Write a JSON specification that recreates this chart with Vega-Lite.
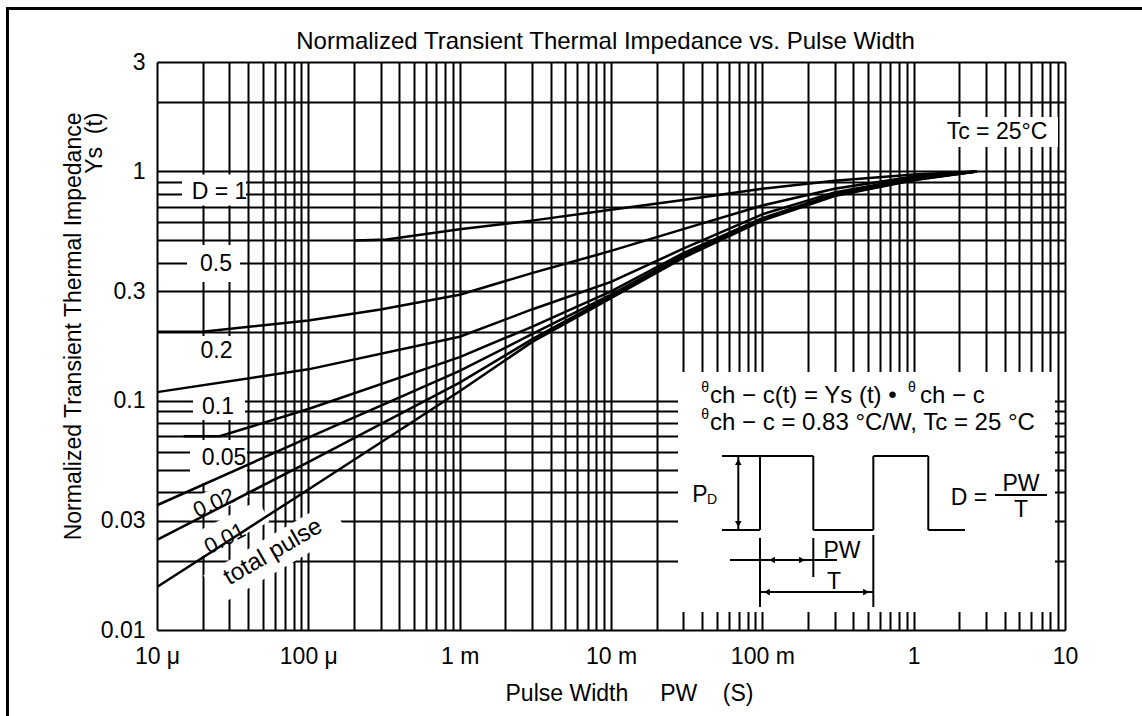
{
  "$schema": "https://vega.github.io/schema/vega-lite/v6.json",
  "width": 908,
  "height": 568,
  "autosize": {"type": "none"},
  "padding": {"left": 157, "top": 62, "right": 77, "bottom": 86},
  "background": "white",
  "config": {"view": {"stroke": null}, "font": "Liberation Sans"},
  "datasets": {
    "curves": [
      {"c": "A", "x": 0.000204, "y": 0.5}, {"c": "A", "x": 0.00033, "y": 0.505}, {"c": "A", "x": 0.001, "y": 0.56}, {"c": "A", "x": 0.003, "y": 0.61}, {"c": "A", "x": 0.01, "y": 0.68}, {"c": "A", "x": 0.03, "y": 0.75}, {"c": "A", "x": 0.1, "y": 0.84}, {"c": "A", "x": 0.3, "y": 0.91}, {"c": "A", "x": 1, "y": 0.97}, {"c": "A", "x": 2.6, "y": 1.0},
      {"c": "B", "x": 0.00001, "y": 0.2}, {"c": "B", "x": 0.00002, "y": 0.2}, {"c": "B", "x": 0.0001, "y": 0.224}, {"c": "B", "x": 0.0003, "y": 0.25}, {"c": "B", "x": 0.001, "y": 0.29}, {"c": "B", "x": 0.003, "y": 0.36}, {"c": "B", "x": 0.01, "y": 0.45}, {"c": "B", "x": 0.03, "y": 0.56}, {"c": "B", "x": 0.1, "y": 0.71}, {"c": "B", "x": 0.3, "y": 0.84}, {"c": "B", "x": 1, "y": 0.95}, {"c": "B", "x": 2.6, "y": 1.0},
      {"c": "C", "x": 0.00001, "y": 0.109}, {"c": "C", "x": 0.0001, "y": 0.137}, {"c": "C", "x": 0.001, "y": 0.19}, {"c": "C", "x": 0.003, "y": 0.25}, {"c": "C", "x": 0.01, "y": 0.33}, {"c": "C", "x": 0.03, "y": 0.46}, {"c": "C", "x": 0.1, "y": 0.65}, {"c": "C", "x": 0.3, "y": 0.81}, {"c": "C", "x": 1, "y": 0.935}, {"c": "C", "x": 2.6, "y": 1.0},
      {"c": "D", "x": 0.000015, "y": 0.07}, {"c": "D", "x": 0.000026, "y": 0.07}, {"c": "D", "x": 0.0001, "y": 0.092}, {"c": "D", "x": 0.001, "y": 0.155}, {"c": "D", "x": 0.003, "y": 0.21}, {"c": "D", "x": 0.01, "y": 0.3}, {"c": "D", "x": 0.03, "y": 0.44}, {"c": "D", "x": 0.1, "y": 0.625}, {"c": "D", "x": 0.3, "y": 0.795}, {"c": "D", "x": 1, "y": 0.93}, {"c": "D", "x": 2.6, "y": 1.0},
      {"c": "E", "x": 0.00001, "y": 0.035}, {"c": "E", "x": 0.0001, "y": 0.069}, {"c": "E", "x": 0.001, "y": 0.135}, {"c": "E", "x": 0.003, "y": 0.195}, {"c": "E", "x": 0.01, "y": 0.29}, {"c": "E", "x": 0.03, "y": 0.43}, {"c": "E", "x": 0.1, "y": 0.62}, {"c": "E", "x": 0.3, "y": 0.79}, {"c": "E", "x": 1, "y": 0.925}, {"c": "E", "x": 2.6, "y": 1.0},
      {"c": "F", "x": 0.00001, "y": 0.0247}, {"c": "F", "x": 0.0001, "y": 0.054}, {"c": "F", "x": 0.001, "y": 0.12}, {"c": "F", "x": 0.003, "y": 0.185}, {"c": "F", "x": 0.01, "y": 0.285}, {"c": "F", "x": 0.03, "y": 0.425}, {"c": "F", "x": 0.1, "y": 0.615}, {"c": "F", "x": 0.3, "y": 0.785}, {"c": "F", "x": 1, "y": 0.92}, {"c": "F", "x": 2.6, "y": 1.0},
      {"c": "G", "x": 0.00001, "y": 0.0154}, {"c": "G", "x": 0.0001, "y": 0.041}, {"c": "G", "x": 0.001, "y": 0.11}, {"c": "G", "x": 0.003, "y": 0.18}, {"c": "G", "x": 0.01, "y": 0.28}, {"c": "G", "x": 0.03, "y": 0.42}, {"c": "G", "x": 0.1, "y": 0.61}, {"c": "G", "x": 0.3, "y": 0.78}, {"c": "G", "x": 1, "y": 0.915}, {"c": "G", "x": 2.6, "y": 1.0}
    ],
    "boxes": [
      {"x": 0.00001463, "x2": 0.00003873, "y": 0.71, "y2": 0.97},
      {"x": 0.00001579, "x2": 0.00003536, "y": 0.3294, "y2": 0.4775},
      {"x": 0.00001652, "x2": 0.00003536, "y": 0.1114, "y2": 0.1915},
      {"x": 0.00001729, "x2": 0.00003814, "y": 0.0824, "y2": 0.1125},
      {"x": 0.00001652, "x2": 0.00003933, "y": 0.04377, "y2": 0.0674},
      {"x": 1.493, "x2": 8.989, "y": 1.278, "y2": 1.727},
      {"x": 0.02772, "x2": 8.59, "y": 0.01198, "y2": 0.1334}
    ],
    "bands": [
      {"b": "d02", "x": 0.00001603, "y": 0.0327}, {"b": "d02", "x": 0.00003757, "y": 0.04203},
      {"b": "d01", "x": 0.00001703, "y": 0.02279}, {"b": "d01", "x": 0.00005095, "y": 0.03304},
      {"b": "tp", "x": 0.00002309, "y": 0.01494}, {"b": "tp", "x": 0.000157, "y": 0.03142}
    ],
    "segs": [
      {"x": 0.05414, "x2": 0.09652, "y": 0.0273, "y2": 0.0273},
      {"x": 0.09652, "x2": 0.09652, "y": 0.0273, "y2": 0.05739},
      {"x": 0.05414, "x2": 0.2172, "y": 0.05739, "y2": 0.05739},
      {"x": 0.2172, "x2": 0.2172, "y": 0.05739, "y2": 0.0273},
      {"x": 0.2172, "x2": 0.5413, "y": 0.0273, "y2": 0.0273},
      {"x": 0.5413, "x2": 0.5413, "y": 0.0273, "y2": 0.05739},
      {"x": 0.5413, "x2": 1.249, "y": 0.05739, "y2": 0.05739},
      {"x": 1.249, "x2": 1.249, "y": 0.05739, "y2": 0.0273},
      {"x": 1.249, "x2": 2.184, "y": 0.0273, "y2": 0.0273},
      {"x": 0.06937, "x2": 0.06937, "y": 0.05739, "y2": 0.0273},
      {"x": 0.09652, "x2": 0.09652, "y": 0.02519, "y2": 0.0126},
      {"x": 0.2172, "x2": 0.2172, "y": 0.02519, "y2": 0.01702},
      {"x": 0.5413, "x2": 0.5413, "y": 0.02596, "y2": 0.0126},
      {"x": 0.06113, "x2": 0.3115, "y": 0.0202, "y2": 0.0202},
      {"x": 0.09652, "x2": 0.5413, "y": 0.01464, "y2": 0.01464},
      {"x": 3.446, "x2": 7.605, "y": 0.0388, "y2": 0.0388}
    ],
    "arrows": [
      {"d": "up", "x": 0.06937, "y": 0.05404},
      {"d": "down", "x": 0.06937, "y": 0.029},
      {"d": "left", "x": 0.1159, "y": 0.0202},
      {"d": "right", "x": 0.1829, "y": 0.0202},
      {"d": "left", "x": 0.1073, "y": 0.01464},
      {"d": "right", "x": 0.4842, "y": 0.01464}
    ],
    "frame": [
      {"x": 0.000001005, "x2": 32.28, "y": 5.133, "y2": 5.133},
      {"x": 0.000001028, "x2": 0.000001028, "y": 5.133, "y2": 0.004217}
    ],
    "titletext": [
      {"t": "Normalized Transient Thermal Impedance vs. Pulse Width", "x": 0.009198, "y": 3.418}
    ],
    "labels": [
      {"t": "D = 1", "x": 0.00002588, "y": 0.8131},
      {"t": "0.5", "x": 0.00002454, "y": 0.3946},
      {"t": "0.2", "x": 0.00002473, "y": 0.1639},
      {"t": "0.1", "x": 0.00002529, "y": 0.09434},
      {"t": "0.05", "x": 0.00002772, "y": 0.05653},
      {"t": "Tc = 25°C", "x": 3.553, "y": 1.485},
      {"t": "P", "x": 0.03875, "y": 0.0388},
      {"t": "PW", "x": 0.336, "y": 0.02211},
      {"t": "T", "x": 0.2976, "y": 0.01619},
      {"t": "D =", "x": 2.321, "y": 0.03764},
      {"t": "PW", "x": 5.121, "y": 0.04333},
      {"t": "T", "x": 5.121, "y": 0.03337}
    ],
    "leftlabels": [
      {"t": "ch − c(t) = Ys (t) •", "x": 0.04511, "y": 0.1048},
      {"t": "ch − c", "x": 1.102, "y": 0.1048},
      {"t": "ch − c = 0.83 °C/W, Tc = 25 °C", "x": 0.04511, "y": 0.07992}
    ],
    "small": [
      {"t": "θ", "x": 0.04181, "y": 0.1136},
      {"t": "θ", "x": 0.975, "y": 0.1136},
      {"t": "θ", "x": 0.04181, "y": 0.08662},
      {"t": "D", "x": 0.0465, "y": 0.03688}
    ],
    "rot02": [{"t": "0.02", "x": 0.0000238, "y": 0.0358}],
    "rot01": [{"t": "0.01", "x": 0.00002814, "y": 0.02506}],
    "rottp": [{"t": "total pulse", "x": 0.00005842, "y": 0.02189}]
  },
  "encoding": {
    "x": {
      "field": "x", "type": "quantitative",
      "scale": {"type": "log", "domain": [0.00001, 10], "nice": false},
      "axis": {
        "title": "Pulse Width\u00a0\u00a0\u00a0\u00a0\u00a0PW\u00a0\u00a0\u00a0\u00a0(S)",
        "values": [0.00001, 0.00002, 0.00003, 0.00004, 0.00005, 0.00006, 0.00007, 0.00008, 0.00009, 0.0001, 0.0002, 0.0003, 0.0004, 0.0005, 0.0006, 0.0007, 0.0008, 0.0009, 0.001, 0.002, 0.003, 0.004, 0.005, 0.006, 0.007, 0.008, 0.009, 0.01, 0.02, 0.03, 0.04, 0.05, 0.06, 0.07, 0.08, 0.09, 0.1, 0.2, 0.3, 0.4, 0.5, 0.6, 0.7, 0.8, 0.9, 1, 2, 3, 4, 5, 6, 7, 8, 9, 10],
        "labelExpr": "datum.value === 0.00001 ? '10 μ' : datum.value === 0.0001 ? '100 μ' : datum.value === 0.001 ? '1 m' : datum.value === 0.01 ? '10 m' : datum.value === 0.1 ? '100 m' : datum.value === 1 ? '1' : datum.value === 10 ? '10' : ''",
        "grid": true, "gridColor": "black", "gridWidth": 2, "gridOpacity": 1,
        "domain": false, "ticks": false, "tickSize": 0,
        "labelFont": "Liberation Sans", "labelFontSize": 23, "labelColor": "black",
        "labelPadding": 15, "labelOverlap": false, "labelFlush": false, "labelBound": false, "labelDx": 3,
        "titleFont": "Liberation Sans", "titleFontSize": 23, "titleFontWeight": "normal", "titleColor": "black",
        "titleX": 472, "titleY": 70, "titleBaseline": "alphabetic", "titleAlign": "center"
      }
    },
    "y": {
      "field": "y", "type": "quantitative",
      "scale": {"type": "log", "domain": [0.01, 3], "nice": false},
      "axis": {
        "title": ["Normalized Transient Thermal Impedance", "Ys\u00a0\u00a0(t)"],
        "values": [0.01, 0.02, 0.03, 0.04, 0.05, 0.06, 0.07, 0.08, 0.09, 0.1, 0.2, 0.3, 0.4, 0.5, 0.6, 0.7, 0.8, 0.9, 1, 2, 3],
        "labelExpr": "datum.value === 0.01 ? '0.01' : datum.value === 0.03 ? '0.03' : datum.value === 0.1 ? '0.1' : datum.value === 0.3 ? '0.3' : datum.value === 1 ? '1' : datum.value === 3 ? '3' : ''",
        "grid": true, "gridColor": "black", "gridWidth": 2, "gridOpacity": 1,
        "domain": false, "ticks": false, "tickSize": 0,
        "labelFont": "Liberation Sans", "labelFontSize": 23, "labelColor": "black",
        "labelPadding": 12, "labelOverlap": false, "labelFlush": false, "labelBound": false, "labelBaseline": "middle",
        "titleFont": "Liberation Sans", "titleFontSize": 23, "titleFontWeight": "normal", "titleColor": "black",
        "titleAngle": -90, "titleAlign": "right", "titleBaseline": "alphabetic", "titleX": -77, "titleY": 50, "titleLineHeight": 21
      }
    }
  },
  "layer": [
    {"data": {"name": "boxes"}, "mark": {"type": "rect", "fill": "white", "stroke": null}, "encoding": {"x2": {"field": "x2"}, "y2": {"field": "y2"}}},
    {"data": {"name": "bands"}, "transform": [{"filter": "datum.b === 'd02'"}], "mark": {"type": "line", "color": "white", "strokeWidth": 22, "strokeCap": "butt"}, "encoding": {"detail": {"field": "b"}}},
    {"data": {"name": "bands"}, "transform": [{"filter": "datum.b === 'd01'"}], "mark": {"type": "line", "color": "white", "strokeWidth": 24, "strokeCap": "butt"}, "encoding": {"detail": {"field": "b"}}},
    {"data": {"name": "bands"}, "transform": [{"filter": "datum.b === 'tp'"}], "mark": {"type": "line", "color": "white", "strokeWidth": 34, "strokeCap": "butt"}, "encoding": {"detail": {"field": "b"}}},
    {"data": {"name": "curves"}, "mark": {"type": "line", "color": "black", "strokeWidth": 2.5}, "encoding": {"detail": {"field": "c"}}},
    {"data": {"name": "segs"}, "mark": {"type": "rule", "color": "black", "strokeWidth": 2}, "encoding": {"x2": {"field": "x2"}, "y2": {"field": "y2"}}},
    {"data": {"name": "arrows"}, "mark": {"type": "point", "filled": true, "color": "black", "size": 45, "opacity": 1}, "encoding": {"shape": {"field": "d", "type": "nominal", "scale": {"domain": ["up", "down", "left", "right"], "range": ["triangle-up", "triangle-down", "triangle-left", "triangle-right"]}, "legend": null}}},
    {"data": {"name": "frame"}, "mark": {"type": "rule", "color": "black", "strokeWidth": 3}, "encoding": {"x2": {"field": "x2"}, "y2": {"field": "y2"}}},
    {"data": {"name": "titletext"}, "mark": {"type": "text", "fontSize": 24, "align": "center", "baseline": "alphabetic", "color": "black"}, "encoding": {"text": {"field": "t"}}},
    {"data": {"name": "labels"}, "mark": {"type": "text", "fontSize": 23, "align": "center", "baseline": "middle", "color": "black"}, "encoding": {"text": {"field": "t"}}},
    {"data": {"name": "leftlabels"}, "mark": {"type": "text", "fontSize": 24, "align": "left", "baseline": "middle", "color": "black"}, "encoding": {"text": {"field": "t"}}},
    {"data": {"name": "small"}, "mark": {"type": "text", "fontSize": 14, "align": "center", "baseline": "middle", "color": "black"}, "encoding": {"text": {"field": "t"}}},
    {"data": {"name": "rot02"}, "mark": {"type": "text", "fontSize": 22, "align": "center", "baseline": "middle", "color": "black", "angle": -24}, "encoding": {"text": {"field": "t"}}},
    {"data": {"name": "rot01"}, "mark": {"type": "text", "fontSize": 22, "align": "center", "baseline": "middle", "color": "black", "angle": -27}, "encoding": {"text": {"field": "t"}}},
    {"data": {"name": "rottp"}, "mark": {"type": "text", "fontSize": 24, "align": "center", "baseline": "middle", "color": "black", "angle": -30}, "encoding": {"text": {"field": "t"}}}
  ]
}
